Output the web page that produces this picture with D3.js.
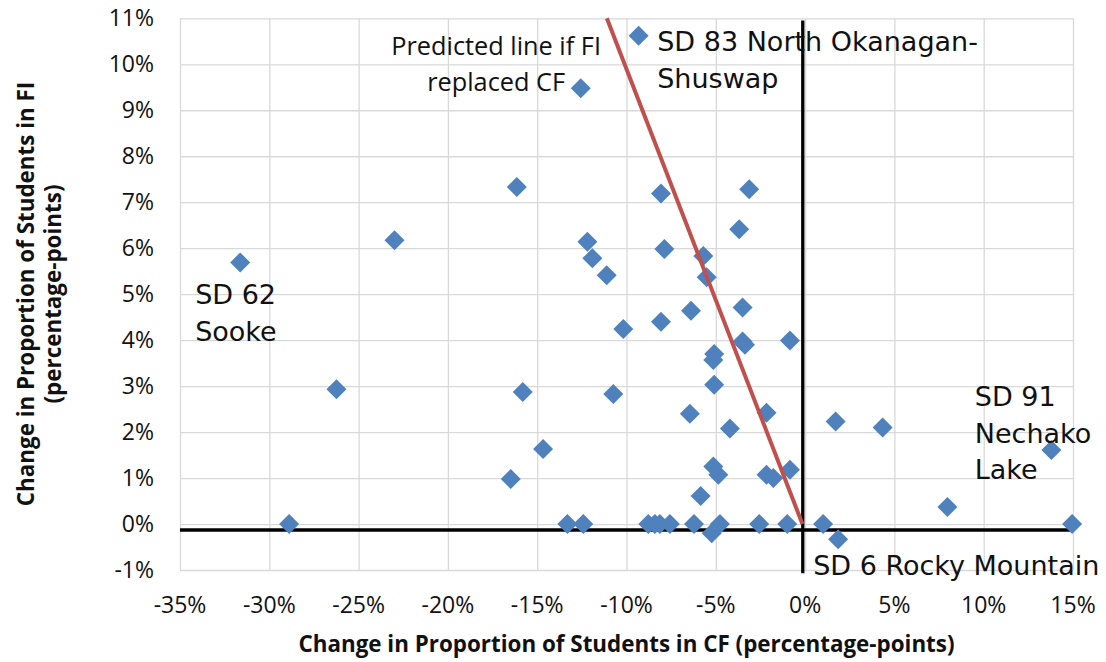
<!DOCTYPE html>
<html lang="en">
<head>
    <meta charset="UTF-8">
    <title>Change in CF vs FI</title>
    <script src="https://d3js.org/d3.v7.min.js"></script>
    <style>
        body { margin: 0; background: #fff; }
        .tick-label { font-family: "Open Sans", sans-serif; font-size: 23px; fill: #111; }
        .axis-title { font-family: "Open Sans", sans-serif; font-weight: bold; font-size: 22.4px; fill: #111; }
        .data-label { font-family: "DejaVu Sans", sans-serif; font-size: 27px; fill: #111; }
    </style>
</head>
<body>
<div id="chart"></div>
<script>
    // Change in share of students, percentage-points (one entry per school district)
    const cfChange = [
        -31.63, -28.89, -26.24, -22.99, -16.14, -15.81, -14.67, -16.48, -13.31, -12.42,
        -12.56, -9.32, -12.19, -11.91, -11.11, -8.07, -3.13, -3.69, -7.88, -5.70,
        -5.51, -10.18, -8.07, -6.39, -3.50, -3.50, -3.37, -0.85, -5.09, -5.14,
        -5.09, -10.74, -6.45, -4.21, -2.16, -5.14, -4.86, -5.85, -2.16, -1.78,
        -0.85, -8.78, -8.41, -8.13, -7.57, -6.22, -4.77, -2.57, -1.00, 1.01,
        14.95, -5.23, 1.71, 4.34, 1.85, 7.97, 13.79
    ];
    const fiChange = [
        5.69, 0, 2.93, 6.17, 7.33, 2.87, 1.63, 0.98, 0, 0,
        9.48, 10.62, 6.14, 5.78, 5.41, 7.19, 7.28, 6.41, 5.98, 5.83,
        5.37, 4.24, 4.40, 4.64, 4.71, 3.97, 3.90, 3.99, 3.70, 3.57,
        3.03, 2.83, 2.40, 2.08, 2.42, 1.25, 1.07, 0.61, 1.07, 1.00,
        1.18, 0, 0, 0, 0, 0, 0, 0, 0, 0,
        0, -0.20, 2.23, 2.10, -0.33, 0.37, 1.61
    ];

    // predicted line (FI replaces CF one for one) and the drawn axis lines
    const predictedLine = [[-0.15, 0], [-11.1, 11]];
    const hAxisLine = [[-35, -0.13], [14.85, -0.13]];
    const vAxisLine = [[-0.13, 10.95], [-0.13, -1.07]];

    const xTicks = [-35, -30, -25, -20, -15, -10, -5, 0, 5, 10, 15];
    const yTicks = [-1, 0, 1, 2, 3, 4, 5, 6, 7, 8, 9, 10, 11];

    // district labels: text lines and anchor in data units
    const labelLines = [
        ["SD 83 North Okanagan-", "Shuswap"],
        ["SD 62", "Sooke"],
        ["SD 91", "Nechako", "Lake"],
        ["SD 6 Rocky Mountain"]
    ];
    const labelX = [-8.28, -34.15, 9.50, 0.45];
    const labelY = [10.29, 4.79, 2.57, -1.10];

    const width = 1106, height = 662;
    const svg = d3.select("#chart").append("svg")
        .attr("width", width)
        .attr("height", height);

    const x = d3.scaleLinear().domain([-35, 15]).range([180, 1073]);
    const y = d3.scaleLinear().domain([-1, 11]).range([570, 18.3]);
    const pct = d => d + "%";

    // gridlines
    svg.append("g")
        .attr("transform", `translate(0,${y(-1)})`)
        .call(d3.axisBottom(x).tickValues(xTicks).tickSize(-(y(-1) - y(11))).tickFormat(""))
        .call(g => g.select(".domain").remove())
        .call(g => g.selectAll("line").attr("stroke", "#d9d9d9").attr("stroke-width", 1.3));
    svg.append("g")
        .attr("transform", `translate(${x(-35)},0)`)
        .call(d3.axisLeft(y).tickValues(yTicks).tickSize(-(x(15) - x(-35))).tickFormat(""))
        .call(g => g.select(".domain").remove())
        .call(g => g.selectAll("line").attr("stroke", "#d9d9d9").attr("stroke-width", 1.3));

    // tick labels
    svg.append("g").selectAll("text")
        .data(xTicks).join("text")
        .attr("class", "tick-label")
        .attr("x", d => x(d))
        .attr("y", 613)
        .attr("text-anchor", "middle")
        .text(pct);
    svg.append("g").selectAll("text")
        .data(yTicks).join("text")
        .attr("class", "tick-label")
        .attr("x", 154)
        .attr("y", d => y(d) + 8)
        .attr("text-anchor", "end")
        .text(pct);

    const line = d3.line().x(d => x(d[0])).y(d => y(d[1]));

    // black axis lines
    [hAxisLine, vAxisLine].forEach(l => {
        svg.append("path")
            .datum(l)
            .attr("d", line)
            .attr("stroke", "#000")
            .attr("stroke-width", 3.3)
            .attr("fill", "none");
    });

    // points
    const diamond = d3.symbol().type(d3.symbolSquare).size(200);
    svg.append("g").selectAll("path")
        .data(d3.range(cfChange.length)).join("path")
        .attr("d", diamond)
        .attr("transform", i => `translate(${x(cfChange[i])},${y(fiChange[i])}) rotate(45)`)
        .attr("fill", "#4f81bd");

    // predicted line
    svg.append("path")
        .datum(predictedLine)
        .attr("d", line)
        .attr("stroke", "#c0504d")
        .attr("stroke-width", 4)
        .attr("fill", "none");

    // predicted line label
    const pl = svg.append("text")
        .attr("class", "tick-label")
        .style("font-size", "25.3px")
        .attr("text-anchor", "middle")
        .attr("x", x(-17.3))
        .attr("y", y(10.2));
    pl.append("tspan").attr("x", x(-17.3)).text("Predicted line if FI");
    pl.append("tspan").attr("x", x(-17.3)).attr("dy", 36).text("replaced CF");

    // district labels
    labelLines.forEach((lines, i) => {
        const t = svg.append("text")
            .attr("class", "data-label")
            .attr("x", x(labelX[i]))
            .attr("y", y(labelY[i]));
        lines.forEach((s, j) => {
            t.append("tspan")
                .attr("x", x(labelX[i]))
                .attr("dy", j === 0 ? 0 : 36.7)
                .text(s);
        });
    });

    // axis titles
    svg.append("text")
        .attr("class", "axis-title")
        .attr("x", (x(-35) + x(15)) / 2)
        .attr("y", 652)
        .attr("text-anchor", "middle")
        .text("Change in Proportion of Students in CF (percentage-points)");

    const yt = svg.append("text")
        .attr("class", "axis-title")
        .attr("text-anchor", "middle")
        .attr("transform", "translate(34,294) rotate(-90)");
    yt.append("tspan").attr("x", 0).attr("y", 0).text("Change in Proportion of Students in FI");
    yt.append("tspan").attr("x", 0).attr("y", 27).text("(percentage-points)");
</script>
</body>
</html>
